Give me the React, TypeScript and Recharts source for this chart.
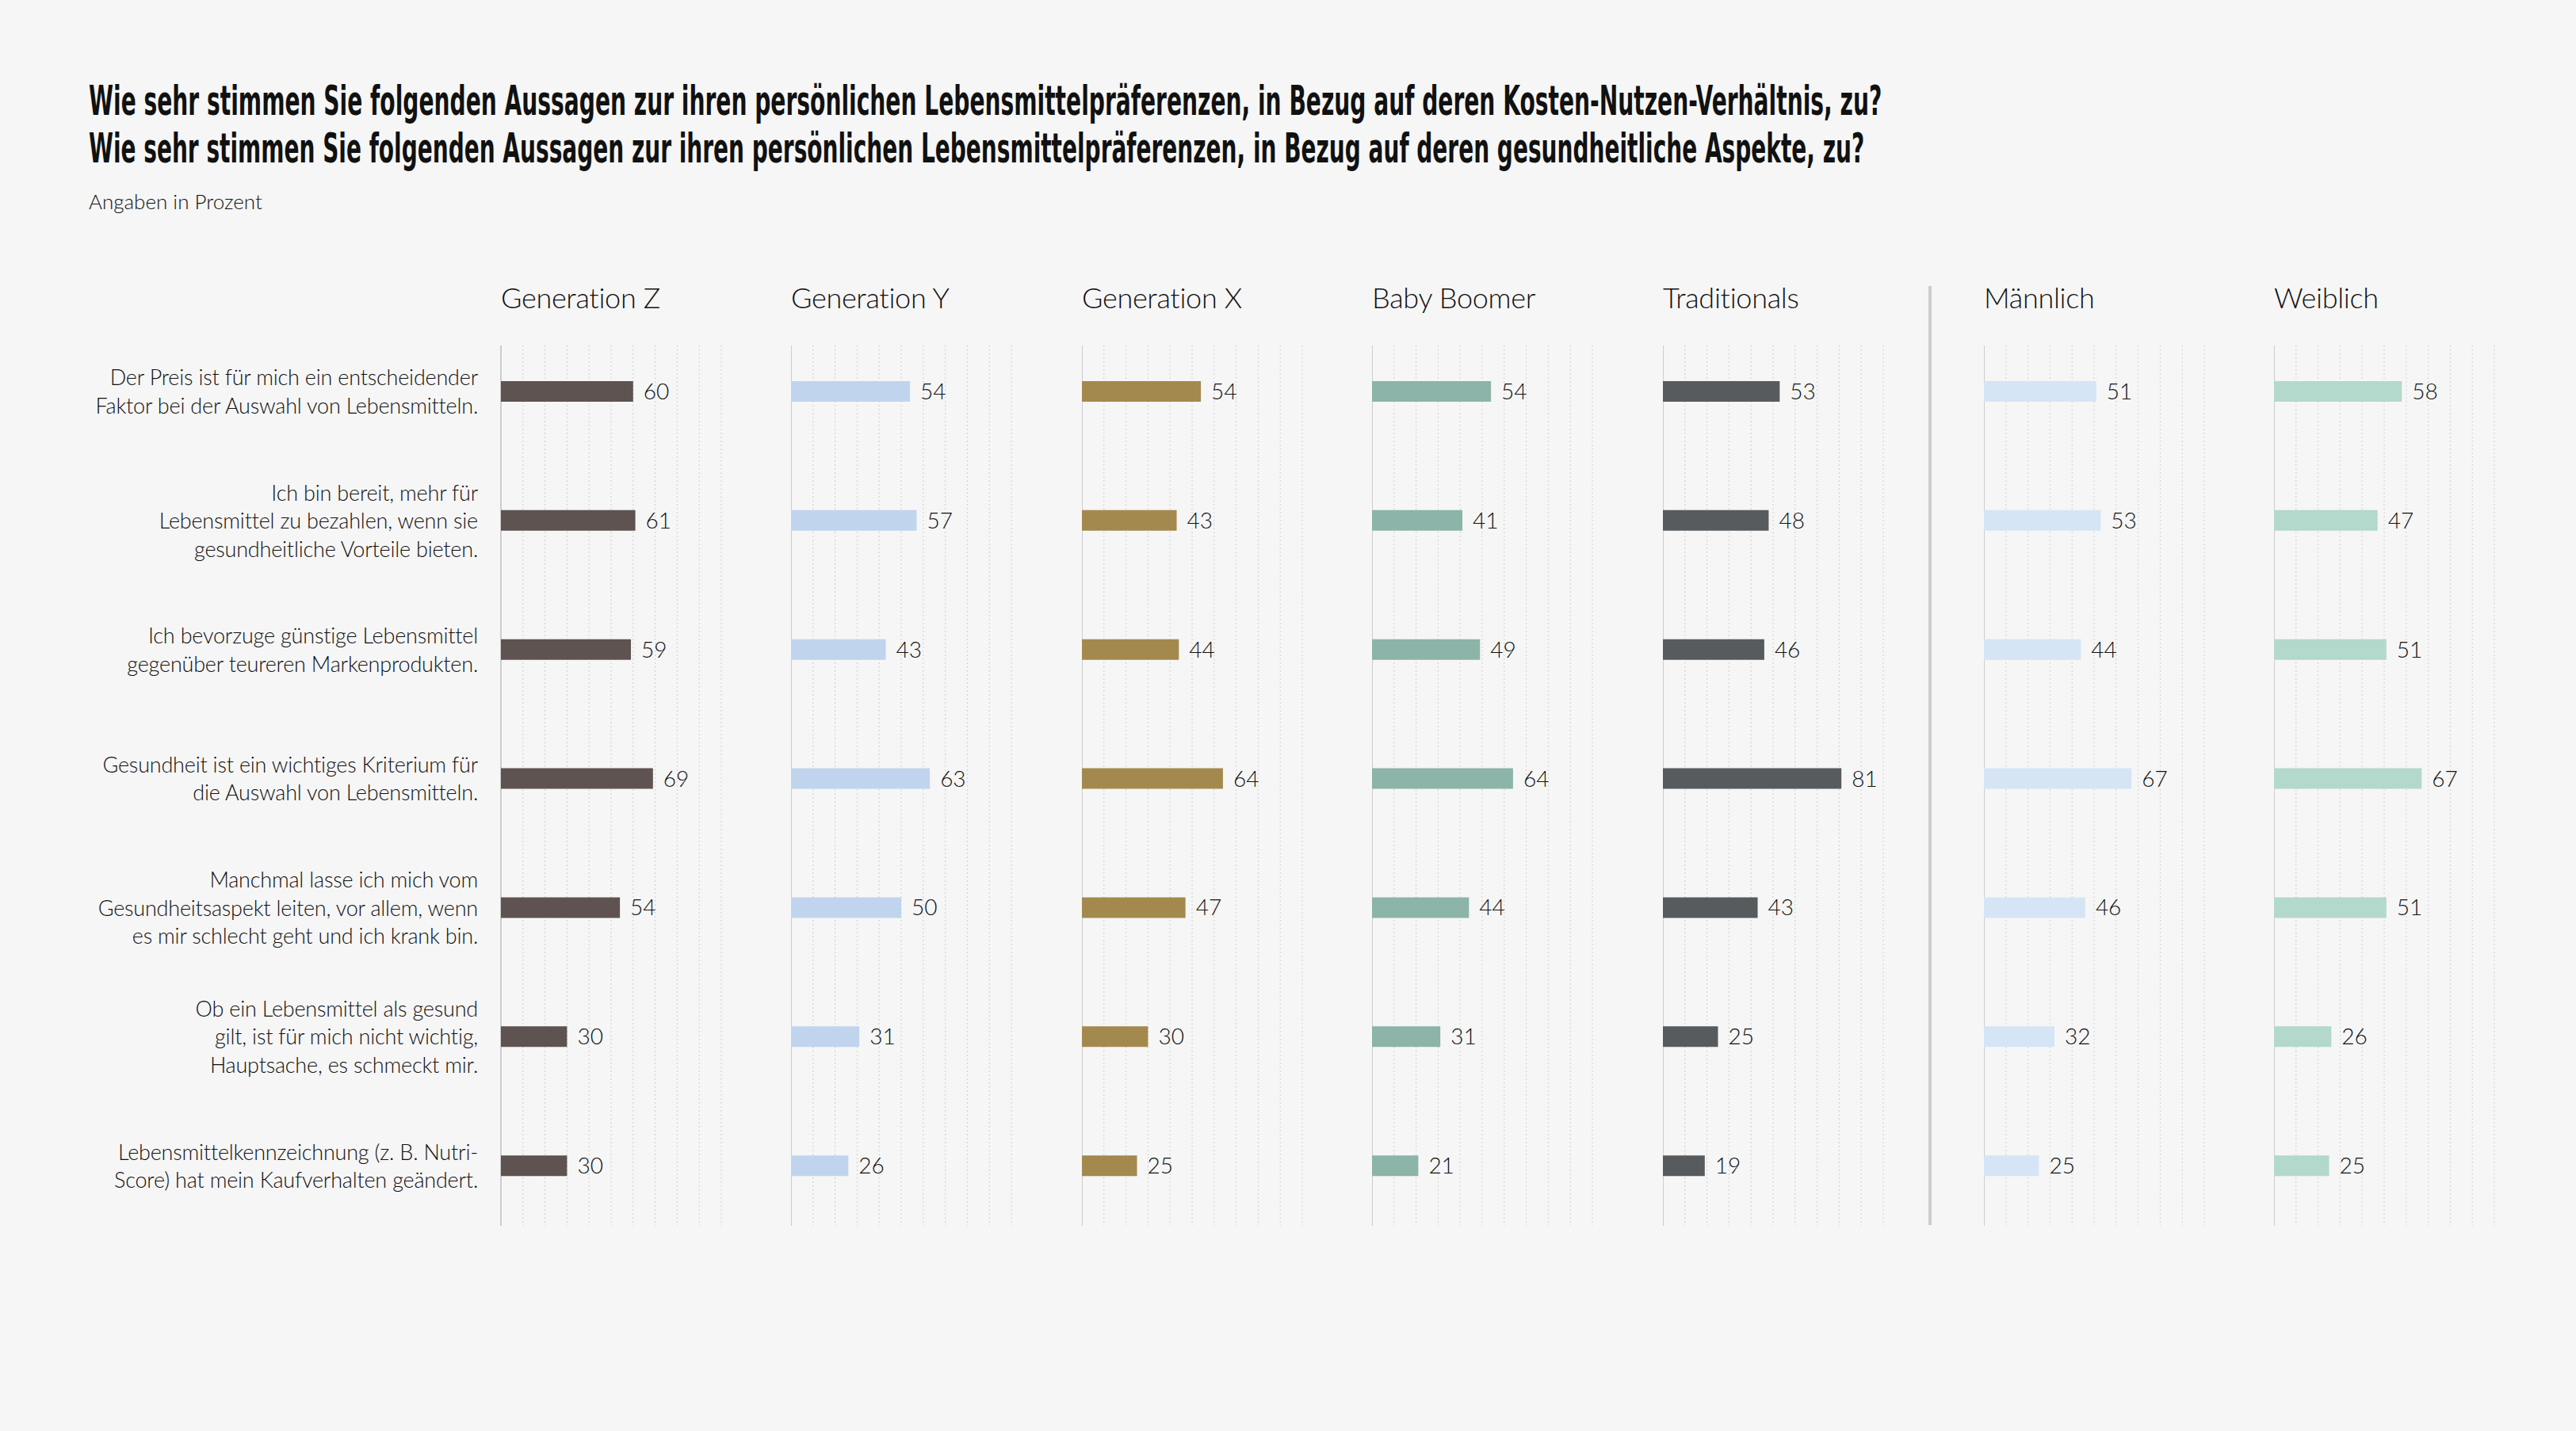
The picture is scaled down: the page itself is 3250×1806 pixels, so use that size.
import { useLayoutEffect, useRef, useState } from 'react'
import { BarChart, Bar, XAxis, YAxis, CartesianGrid, LabelList } from 'recharts'

// Statements (line breaks as in the original layout)
const categories = [
  'Der Preis ist für mich ein entscheidender\nFaktor bei der Auswahl von Lebensmitteln.',
  'Ich bin bereit, mehr für\nLebensmittel zu bezahlen, wenn sie\ngesundheitliche Vorteile bieten.',
  'Ich bevorzuge günstige Lebensmittel\ngegenüber teureren Markenprodukten.',
  'Gesundheit ist ein wichtiges Kriterium für\ndie Auswahl von Lebensmitteln.',
  'Manchmal lasse ich mich vom\nGesundheitsaspekt leiten, vor allem, wenn\nes mir schlecht geht und ich krank bin.',
  'Ob ein Lebensmittel als gesund\ngilt, ist für mich nicht wichtig,\nHauptsache, es schmeckt mir.',
  'Lebensmittelkennzeichnung (z. B. Nutri-\nScore) hat mein Kaufverhalten geändert.',
]

const groups = ['Generation Z', 'Generation Y', 'Generation X', 'Baby Boomer', 'Traditionals', 'Männlich', 'Weiblich']

const genZ = [60, 61, 59, 69, 54, 30, 30]
const genY = [54, 57, 43, 63, 50, 31, 26]
const genX = [54, 43, 44, 64, 47, 30, 25]
const babyBoomer = [54, 41, 49, 64, 44, 31, 21]
const traditionals = [53, 48, 46, 81, 43, 25, 19]
const maennlich = [51, 53, 44, 67, 46, 32, 25]
const weiblich = [58, 47, 51, 67, 51, 26, 25]

const seriesValues = [genZ, genY, genX, babyBoomer, traditionals, maennlich, weiblich]
const seriesColors = ['#5e5350', '#c1d4ee', '#a4894f', '#8cb4a9', '#575b5e', '#d5e5f5', '#b3d8cc']

const gridTicks = [10, 20, 30, 40, 50, 60, 70, 80, 90, 100]

const titleLines = [
  'Wie sehr stimmen Sie folgenden Aussagen zur ihren persönlichen Lebensmittelpräferenzen, in Bezug auf deren Kosten-Nutzen-Verhältnis, zu?',
  'Wie sehr stimmen Sie folgenden Aussagen zur ihren persönlichen Lebensmittelpräferenzen, in Bezug auf deren gesundheitliche Aspekte, zu?',
]
const subtitle = 'Angaben in Prozent'

const FONT = 'Lato, "Open Sans", sans-serif'
const TITLE_FONT = '"Liberation Sans Narrow", "DejaVu Sans Condensed", sans-serif'
const PANEL_X = [632, 998, 1365, 1731, 2098, 2503, 2869]
const PLOT_W = 278
const ROW_TOP = 413
const ROW_H = 1140
const GRID_TOP = 436
const GRID_H = 1111
const PAGE_W = 3250
const PAGE_H = 1806

// squeezes a bold text horizontally to the condensed width of the original title
function FitText({ x, y, width, children, ...rest }: any) {
  const ref = useRef<SVGTextElement>(null)
  const [k, setK] = useState(1)
  useLayoutEffect(() => {
    const w = ref.current ? ref.current.getComputedTextLength() : 0
    if (w > 0) setK(width / w)
  }, [width, children])
  return (
    <text ref={ref} transform={`translate(${x},${y}) scale(${k},1)`} {...rest}>
      {children}
    </text>
  )
}

function CategoryTick(props: any) {
  const { x, y, payload } = props
  const lines = String(payload.value).split('\n')
  const lh = 35.5
  const y0 = y - ((lines.length - 1) * lh) / 2
  return (
    <text x={x} y={y0} textAnchor="end" fontFamily={FONT} fontWeight={300} fontSize={27} letterSpacing={-0.2} fill="#111">
      {lines.map((line, i) => (
        <tspan key={i} x={x} y={y0 + i * lh} dy="0.36em">
          {line}
        </tspan>
      ))}
    </text>
  )
}

const scaleOr = (xAxis: any, offset: any, t: number) =>
  typeof xAxis?.scale === 'function' ? xAxis.scale(t) : offset.left + (t / 100) * offset.width

function Panel({ index }: { index: number }) {
  const first = index === 0
  const yAxisW = first ? PANEL_X[0] : 0
  const data = categories.map((label, i) => ({ label, value: seriesValues[index][i] }))
  return (
    <div style={{ position: 'absolute', left: first ? 0 : PANEL_X[index], top: 0 }}>
      <BarChart
        width={yAxisW + PLOT_W + 80}
        height={PAGE_H}
        data={data}
        layout="vertical"
        margin={{ top: ROW_TOP, bottom: PAGE_H - ROW_TOP - ROW_H, left: 0, right: 80 }}
      >
        <CartesianGrid
          horizontal={false}
          y={GRID_TOP}
          height={GRID_H}
          stroke="#cfcfcf"
          strokeDasharray="2 3"
          verticalCoordinatesGenerator={({ xAxis, offset }: any) => gridTicks.map((t) => scaleOr(xAxis, offset, t))}
        />
        <CartesianGrid
          horizontal={false}
          y={GRID_TOP}
          height={GRID_H}
          stroke="#cdcdcd"
          strokeWidth={2}
          verticalCoordinatesGenerator={({ xAxis, offset }: any) => [scaleOr(xAxis, offset, 0)]}
        />
        <XAxis type="number" domain={[0, 100]} hide />
        <YAxis
          type="category"
          dataKey="label"
          hide={!first}
          width={yAxisW}
          axisLine={false}
          tickLine={false}
          tickSize={0}
          tickMargin={29}
          interval={0}
          tick={<CategoryTick />}
        />
        <Bar dataKey="value" fill={seriesColors[index]} barSize={26} isAnimationActive={false}>
          <LabelList dataKey="value" position="right" offset={13} fontFamily={FONT} fontWeight={300} fontSize={28} fill="#111" />
        </Bar>
      </BarChart>
    </div>
  )
}

export default function App() {
  return (
    <div style={{ position: 'absolute', left: 0, top: 0, width: PAGE_W, height: PAGE_H, background: '#f6f6f6', overflow: 'hidden' }}>
      <svg width={PAGE_W} height={PAGE_H} style={{ position: 'absolute', left: 0, top: 0 }}>
        <FitText x={112} y={145} width={2263} fontFamily={TITLE_FONT} fontWeight={700} fontSize={52} fill="#111">
          {titleLines[0]}
        </FitText>
        <FitText x={112} y={205} width={2241} fontFamily={TITLE_FONT} fontWeight={700} fontSize={52} fill="#111">
          {titleLines[1]}
        </FitText>
        <text x={112} y={264} fontFamily={FONT} fontWeight={300} fontSize={26} fill="#111">
          {subtitle}
        </text>
        {groups.map((g, i) => (
          <text key={g} x={PANEL_X[i]} y={389} fontFamily={FONT} fontWeight={300} fontSize={36} letterSpacing={-0.3} fill="#111">
            {g}
          </text>
        ))}
        <rect x={2433} y={361} width={4} height={1185} fill="#cccccc" />
      </svg>
      {groups.map((g, i) => (
        <Panel key={g} index={i} />
      ))}
    </div>
  )
}
